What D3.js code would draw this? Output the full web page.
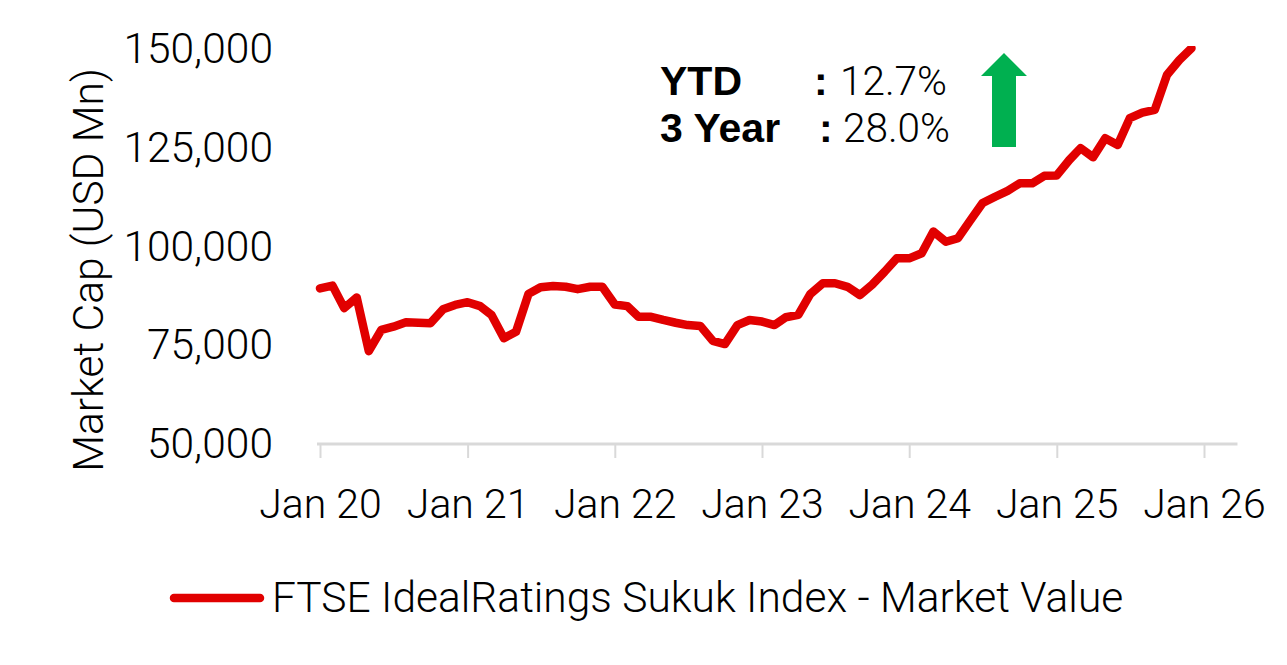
<!DOCTYPE html>
<html><head><meta charset="utf-8">
<script src="https://cdn.jsdelivr.net/npm/d3@7"></script>
<style>
html,body{margin:0;padding:0;background:#fff;}
svg text{font-family:Roboto,"Liberation Sans",Arial,sans-serif;}
</style></head>
<body><svg id="c" width="1287" height="665"></svg>
<script>
const startMonth = new Date(2020, 0, 1);
const values = [
  89400, 90100, 84400, 87100, 73500, 78900, 79700, 80800, 80700, 80600, 84100, 85200,
  85900, 84900, 82700, 76800, 78400, 88000, 89700, 90000, 89800, 89200, 89800, 89800,
  85300, 84900, 82200, 82200, 81400, 80700, 80100, 79900, 76100, 75300, 80100, 81400,
  81000, 80100, 82100, 82700, 88000, 90700, 90700, 89800, 87700, 90300, 93600, 97000,
  97000, 98300, 103800, 101200, 102100, 106700, 111000, 112600, 114100, 116000, 116000, 117900,
  118000, 121900, 124900, 122600, 127400, 125700, 132500, 133900, 134600, 143400, 147200, 150200
];
const yTicks = [50000, 75000, 100000, 125000, 150000];
const xTickYears = [2020, 2021, 2022, 2023, 2024, 2025, 2026];
const seriesName = "FTSE IdealRatings Sukuk Index - Market Value";
const yTitle = "Market Cap (USD Mn)";
const statLabels = ["YTD", "3 Year"];
const statValues = ["12.7%", "28.0%"];

const months = values.map((v, i) => d3.timeMonth.offset(startMonth, i));
const data = months.map((d, i) => ({date: d, value: values[i]}));

const svg = d3.select("#c");
const x = d3.scaleTime().domain([new Date(2020,0,1), new Date(2026,0,1)]).range([320, 1204]);
const y = d3.scaleLinear().domain([50000, 150000]).range([444, 49]);
const red = "#E10000";
const fontW = 300;
const boldFont = "'Liberation Sans', Arial, sans-serif";

// x axis
const xAxis = d3.axisBottom(x)
  .tickValues(xTickYears.map(yr => new Date(yr, 0, 1)))
  .tickFormat(d3.timeFormat("Jan %y"))
  .tickSize(14).tickPadding(31).tickSizeOuter(0);
const gx = svg.append("g").attr("transform", `translate(0,${y(50000)})`).call(xAxis);
gx.select(".domain").remove();
gx.append("line").attr("x1", x(new Date(2020,0,1)) - 3).attr("x2", x(new Date(2026,2,25)))
  .attr("stroke", "#D9D9D9").attr("stroke-width", 3);
gx.selectAll(".tick line").attr("stroke", "#D9D9D9").attr("stroke-width", 2);
gx.selectAll(".tick text").attr("fill", "#000").attr("font-size", 41).attr("font-weight", fontW)
  .style("font-family", "Roboto, sans-serif");

// y axis labels (no line)
const yAxis = d3.axisLeft(y).tickValues(yTicks).tickFormat(d3.format(",")).tickSize(0).tickPadding(0);
const gy = svg.append("g").attr("transform", "translate(273,0)").call(yAxis);
gy.select(".domain").remove();
gy.selectAll(".tick text").attr("fill", "#000").attr("font-size", 42.5).attr("font-weight", fontW)
  .style("font-family", "Roboto, sans-serif");

// y title
svg.append("text").attr("transform", "translate(103,270) rotate(-90)")
  .attr("text-anchor", "middle").attr("font-size", 42.5).attr("font-weight", fontW)
  .text(yTitle);

// line
svg.append("defs").append("clipPath").attr("id", "clip").append("rect")
  .attr("x", 300).attr("y", y(150000) - 3).attr("width", 960).attr("height", 420);
svg.append("path").datum(data)
  .attr("clip-path", "url(#clip)")
  .attr("fill", "none").attr("stroke", red).attr("stroke-width", 8.5)
  .attr("stroke-linejoin", "round").attr("stroke-linecap", "round")
  .attr("d", d3.line().x(d => x(d.date)).y(d => y(d.value)));

// annotation
const ann = svg.append("g");
const rowY = [95, 142];
const colonX = [814, 819];
const valX = [840, 843];
statLabels.forEach((lab, i) => {
  ann.append("text").attr("x", 660).attr("y", rowY[i]).attr("font-size", 41)
    .attr("font-weight", 700).style("font-family", boldFont).text(lab);
  ann.append("text").attr("x", colonX[i]).attr("y", rowY[i]).attr("font-size", 41)
    .attr("font-weight", 700).style("font-family", boldFont).text(":");
  ann.append("text").attr("x", valX[i]).attr("y", rowY[i]).attr("font-size", 40.5)
    .attr("font-weight", fontW).text(statValues[i]);
});
ann.append("path")
  .attr("d", "M1004,53 L1027,76 L1016,76 L1016,147 L992,147 L992,76 L981,76 Z")
  .attr("fill", "#00B050");

// legend
svg.append("line").attr("x1", 174).attr("x2", 260).attr("y1", 598).attr("y2", 598)
  .attr("stroke", red).attr("stroke-width", 8.5).attr("stroke-linecap", "round");
svg.append("text").attr("x", 272).attr("y", 612).attr("font-size", 42.5).attr("font-weight", fontW)
  .text(seriesName);
</script></body></html>
